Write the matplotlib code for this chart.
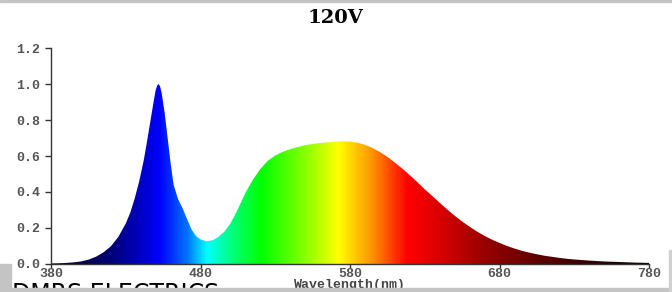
import numpy as np
import matplotlib.pyplot as plt
from matplotlib.colors import LinearSegmentedColormap
from matplotlib.patches import Rectangle

# ---- spectrum data ----
wavelength = [380, 385, 390, 395, 400, 405, 410, 415, 420, 425, 430, 433, 436,
              439, 442, 444, 446, 448, 449, 450, 451, 452, 453, 454, 456, 458,
              460, 462, 465, 468, 471, 474, 477, 480, 484, 488, 492, 496, 500,
              505, 510, 515, 520, 525, 530, 535, 540, 545, 550, 555, 560, 565,
              570, 575, 580, 585, 590, 595, 600, 605, 610, 615, 620, 625, 630,
              635, 640, 645, 650, 655, 660, 665, 670, 675, 680, 685, 690, 695,
              700, 705, 710, 715, 720, 725, 730, 740, 750, 760, 770, 780]
intensity = [0.003, 0.004, 0.006, 0.009, 0.014, 0.024, 0.040, 0.064, 0.098,
             0.150, 0.225, 0.285, 0.365, 0.460, 0.575, 0.670, 0.770, 0.870,
             0.920, 0.965, 0.992, 1.000, 0.985, 0.950, 0.840, 0.700, 0.560,
             0.440, 0.360, 0.310, 0.250, 0.192, 0.155, 0.137, 0.126, 0.132,
             0.150, 0.180, 0.225, 0.305, 0.395, 0.468, 0.528, 0.573, 0.603,
             0.623, 0.638, 0.650, 0.660, 0.667, 0.672, 0.676, 0.680, 0.682,
             0.680, 0.674, 0.662, 0.645, 0.622, 0.595, 0.563, 0.530, 0.493,
             0.455, 0.415, 0.378, 0.340, 0.303, 0.268, 0.236, 0.207, 0.180,
             0.156, 0.135, 0.117, 0.100, 0.086, 0.073, 0.063, 0.054, 0.046,
             0.040, 0.034, 0.029, 0.025, 0.019, 0.014, 0.011, 0.008, 0.006]

xticks = [380, 480, 580, 680, 780]
yticks = [0.0, 0.2, 0.4, 0.6, 0.8, 1.0, 1.2]

# rainbow colour stops for the fill
stop_nm = [380, 420, 440, 452, 470, 484, 500, 520, 548, 572, 595, 618, 640,
           670, 705, 745, 780]
stop_col = ["#100028", "#000078", "#0000c8", "#0000ff", "#0070ff", "#00ffff",
            "#00ff80", "#00ff00", "#80ff00", "#ffff00", "#ff9000", "#ff0000",
            "#d80000", "#980000", "#600000", "#300000", "#140000"]

fig = plt.figure(figsize=(6.72, 2.92), dpi=100)
ax = fig.add_axes([0.0759, 0.0959, 0.890, 0.7397])

ax.set_xlim(380, 780)
ax.set_ylim(0, 1.2)

cmap = LinearSegmentedColormap.from_list(
    "spec", [((n - 380) / 400, c) for n, c in zip(stop_nm, stop_col)])
grad = np.linspace(0, 1, 800).reshape(1, -1)
img = ax.imshow(grad, cmap=cmap, extent=[380, 780, 0, 1.2], aspect="auto",
                origin="lower", zorder=1)
poly = ax.fill_between(wavelength, intensity, 0, color="none", lw=0)
img.set_clip_path(poly.get_paths()[0], transform=ax.transData)

for s in ["top", "right"]:
    ax.spines[s].set_visible(False)
for s in ["left", "bottom"]:
    ax.spines[s].set_color("#333333")
    ax.spines[s].set_linewidth(1.0)
    ax.spines[s].set_zorder(3)

ax.set_xticks(xticks)
ax.set_yticks(yticks)
ax.set_xticklabels([str(v) for v in xticks])
ax.set_yticklabels([f"{v:.1f}" for v in yticks])
for lab in ax.get_xticklabels() + ax.get_yticklabels():
    lab.set_fontfamily("Liberation Mono")
    lab.set_fontweight("bold")
    lab.set_fontsize(9.5)
ax.tick_params(axis="y", direction="out", length=4, width=1, pad=4,
               colors="#333333", labelcolor="#555555")
ax.tick_params(axis="x", direction="out", length=3, width=1, pad=0,
               colors="#333333", labelcolor="#555555")

ax.set_xlabel("Wavelength(nm)", fontfamily="Liberation Mono",
              fontweight="bold", fontsize=9.5, color="#444444", va="center")
ax.xaxis.set_label_coords(0.5, -0.095)

fig.text(0.5, 0.94, "120V", ha="center", va="center",
         fontfamily="DejaVu Serif", fontweight="bold", fontsize=14)

# cut-off watermark text and screenshot frame bits
fig.text(12 / 672, 1 - 282 / 292, "DMRS ELECTRICS", ha="left", va="top",
         fontfamily="DejaVu Sans", fontsize=17, color="black")
fig.patches.append(Rectangle((0, 0), 1, 4 / 292, transform=fig.transFigure,
                             color="#c4c4c4", zorder=10))
fig.patches.append(Rectangle((0, 1 - 2 / 292), 1, 2 / 292,
                             transform=fig.transFigure, color="#c4c4c4",
                             zorder=10))
fig.patches.append(Rectangle((0, 0), 11 / 672, 28 / 292,
                             transform=fig.transFigure, color="#c4c4c4",
                             zorder=10))
fig.patches.append(Rectangle((669 / 672, 0), 2 / 672, 42 / 292,
                             transform=fig.transFigure, color="#d0d0d0",
                             zorder=10))

fig.savefig("out.png", dpi=100)
